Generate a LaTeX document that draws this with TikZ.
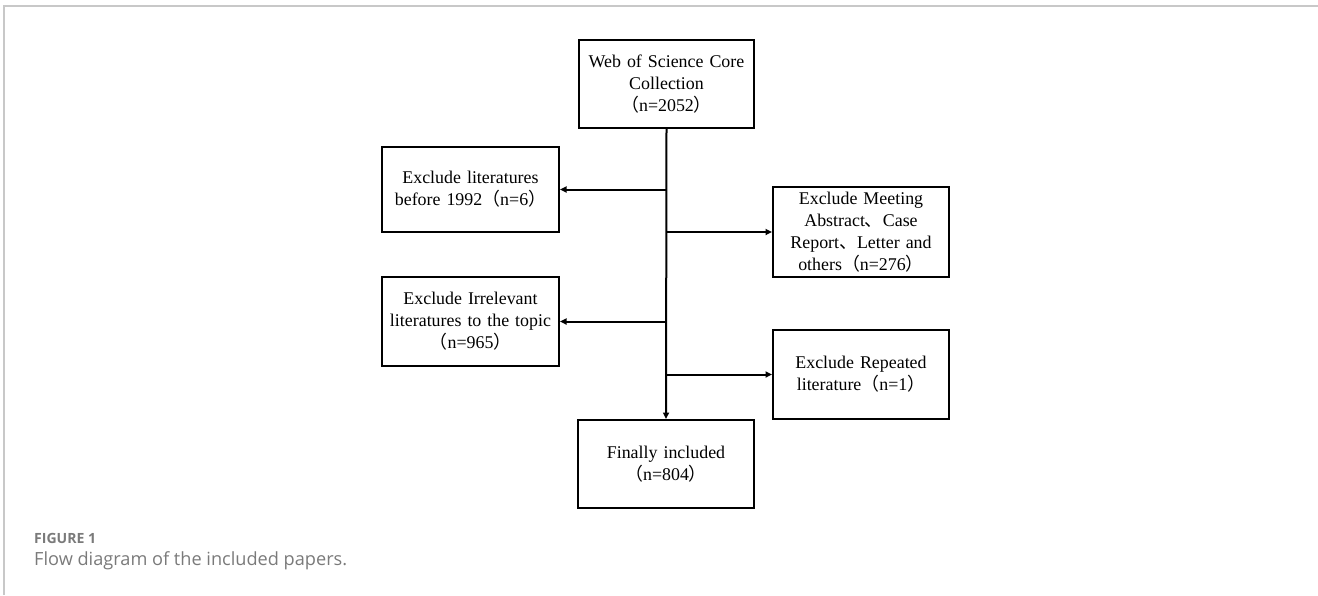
\documentclass[tikz,border=0pt]{standalone}
\usepackage{fontspec}
\setmainfont{Liberation Serif}
\newfontfamily\capfont{Open Sans}
\newfontfamily\cjkfont{Noto Sans CJK SC}
\usetikzlibrary{arrows.meta}
\newcommand{\lp}{{\cjkfont （}}
\newcommand{\rp}{{\cjkfont ）}}
\newcommand{\dun}{{\cjkfont 、}}
\definecolor{framegray}{HTML}{C8C8C8}
\definecolor{capgray}{HTML}{7A7A7A}
\newlength\capw
\newlength\labw
\AtBeginDocument{%
  \settowidth\capw{\capfont\fontsize{10}{12}\selectfont Flow diagram of the included papers.}%
  \settowidth\labw{\capfont\bfseries\fontsize{10}{12}\selectfont FIGURE 1}%
  \pgfmathsetmacro\capsize{10*313/\capw}%
  \pgfmathsetmacro\labsize{10*62/\labw}%
  \global\let\capsize\capsize
  \global\let\labsize\labsize}
\begin{document}
\begin{tikzpicture}[x=1pt,y=-1pt,
  stepbox/.style={draw=black,line width=2pt,align=center,inner sep=2pt,
    font=\fontsize{17.9}{22}\selectfont,text width=#1},
  arr/.style={line width=2pt,-{Triangle[length=6.5pt,width=6pt]}}]
\useasboundingbox (0,0) rectangle (1318,595);
% frame
\draw[framegray,line width=2pt] (4,595) -- (4,6) -- (1318,6);
% boxes
\node[stepbox=165pt,minimum width=175pt,minimum height=88pt] (web) at (666.5,84)
  {Web of Science Core\\Collection\\\lp n=2052\rp};
\node[stepbox=170pt,minimum width=177pt,minimum height=85pt] (lit) at (470.5,189.5)
  {Exclude literatures\\before 1992\lp n=6\rp};
\node[stepbox=170pt,minimum width=176pt,minimum height=90pt] (meet) at (861,232)
  {Exclude Meeting\\Abstract\dun Case\\Report\dun Letter and\\others\lp n=276\rp};
\node[stepbox=170pt,minimum width=177pt,minimum height=89pt] (irr) at (470.5,321.5)
  {Exclude Irrelevant\\literatures to the topic\\\lp n=965\rp};
\node[stepbox=170pt,minimum width=176pt,minimum height=89pt] (rep) at (861,374.5)
  {Exclude Repeated\\literature\lp n=1\rp};
\node[stepbox=165pt,minimum width=176pt,minimum height=88pt] (fin) at (666,464)
  {Finally included\\\lp n=804\rp};
% connectors
\draw[arr] (web.south) -- (fin.north);
\draw[arr] (web.south |- lit.east) -- (lit.east);
\draw[arr] (web.south |- meet.west) -- (meet.west);
\draw[arr] (web.south |- irr.east) -- (irr.east);
\draw[arr] (web.south |- rep.west) -- (rep.west);
% caption
\node[anchor=base west,inner sep=0pt,text=capgray,font=\capfont\bfseries\fontsize{\labsize}{\labsize}\selectfont] (figlab) at (34,543) {FIGURE 1};
\node[anchor=base west,inner sep=0pt,text=capgray,font=\capfont\fontsize{\capsize}{\capsize}\selectfont] (figcap) at (34,565) {Flow diagram of the included papers.};
\end{tikzpicture}
\end{document}
